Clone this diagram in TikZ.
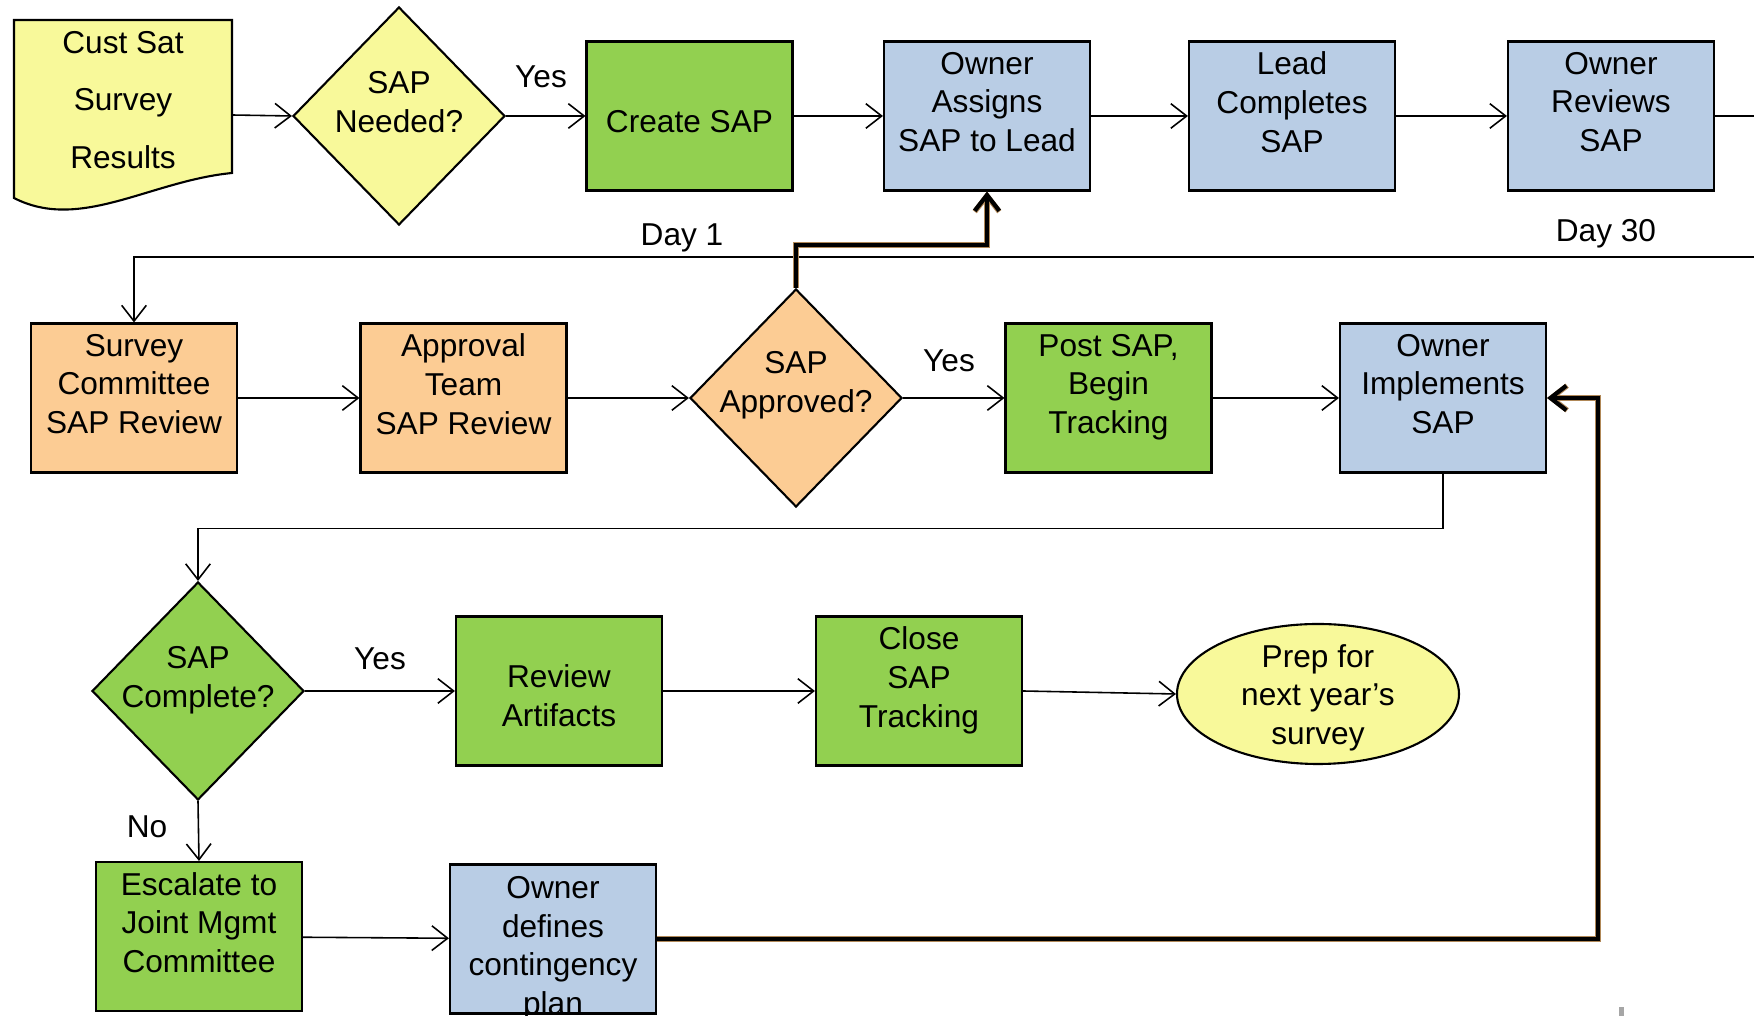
\documentclass[tikz,border=0pt]{standalone}
\usepackage{fontspec}
\setmainfont{Liberation Sans}
\usetikzlibrary{arrows.meta,shapes.geometric}

\definecolor{sapyellow}{HTML}{F8F99A}
\definecolor{sapgreen}{HTML}{92D050}
\definecolor{sapblue}{HTML}{B9CDE5}
\definecolor{saporange}{HTML}{FCCC94}
\definecolor{sapbrown}{HTML}{B08858}

\begin{document}
\begin{tikzpicture}[x=1cm,y=1cm,
  txt/.style={font=\fontsize{9}{11}\selectfont,align=center},
  box/.style={draw,line width=0.6pt,rectangle,minimum width=2.06cm,minimum height=1.49cm,
    inner xsep=0pt,inner ysep=-2pt,txt},
  dia/.style={draw,line width=0.6pt,diamond,minimum width=2.12cm,minimum height=2.18cm,inner sep=0pt},
  arr/.style={-{Straight Barb[length=4.5pt,width=7pt]},line width=0.45pt},
  boldarr/.style={-{Straight Barb[length=4.5pt,width=7pt]},line width=1.2pt,
    preaction={draw=sapbrown,line width=1.5pt}}]
\useasboundingbox (0,0) rectangle (17.54,10.16);

% survey results (document shape)
\draw[fill=sapyellow,line width=0.6pt] (0.14,9.96) -- (2.32,9.96) -- (2.32,8.43)
      .. controls (1.5,8.35) and (0.8,7.84) .. (0.14,8.18) -- cycle;
\node[txt,font=\fontsize{9}{16.4}\selectfont] (cust) at (1.23,9.16) {Cust Sat\\Survey\\Results};
\coordinate (custout) at (2.32,9.01);

% first row
\node[dia,fill=sapyellow] (need) at (3.99,9.00) {};
\node[txt] (needtxt) at (need.center) {SAP\\Needed?\\[-3pt]~};
\node[box,fill=sapgreen] (create) at (6.895,9.00) {~\\[-1.5pt]Create SAP};
\node[box,fill=sapblue] (assign) at (9.87,9.00) {Owner\\Assigns\\SAP to Lead\\[-3pt]~};
\node[box,fill=sapblue] (lead) at (12.92,9.00) {Lead\\Completes\\SAP\\[-3pt]~};
\node[box,fill=sapblue] (review) at (16.11,9.00) {Owner\\Reviews\\SAP\\[-3pt]~};
\node[txt] (yes1) at (5.41,9.39) {Yes};
\node[txt] (day1) at (6.82,7.785) {Day 1};
\node[txt] (day30) at (16.06,7.825) {Day 30};

% second row
\node[box,fill=saporange] (survey) at (1.34,6.18) {Survey\\Committee\\SAP Review\\[-3pt]~};
\node[box,fill=saporange] (approval) at (4.635,6.18) {Approval\\Team\\SAP Review\\[-3pt]~};
\node[dia,fill=saporange] (approved) at (7.96,6.18) {};
\node[txt] (approvedtxt) at (approved.center) {SAP\\Approved?\\[-2pt]~};
\node[box,fill=sapgreen] (post) at (11.085,6.18) {Post SAP,\\Begin\\Tracking\\[-3pt]~};
\node[box,fill=sapblue] (impl) at (14.43,6.18) {Owner\\Implements\\SAP\\[-3pt]~};
\node[txt] (yes2) at (9.49,6.55) {Yes};

% third row
\node[dia,fill=sapgreen] (complete) at (1.98,3.25) {};
\node[txt] (completetxt) at (complete.center) {SAP\\Complete?\\[-3pt]~};
\node[box,fill=sapgreen] (artifacts) at (5.59,3.25) {~\\[-1.9pt]Review\\Artifacts};
\node[box,fill=sapgreen] (close) at (9.19,3.25) {Close\\SAP\\Tracking\\[-3pt]~};
\node[draw,line width=0.6pt,ellipse,fill=sapyellow,minimum width=2.82cm,minimum height=1.40cm,
      inner xsep=0pt,inner ysep=-3.5pt,txt] (prep) at (13.18,3.22) {~\\[-2.3pt]Prep for\\next year’s\\survey};
\node[txt] (yes3) at (3.80,3.57) {Yes};
\node[txt] (no) at (1.47,1.89) {No};

% fourth row
\node[box,fill=sapgreen] (escalate) at (1.99,0.795) {Escalate to\\Joint Mgmt\\Committee\\[-3pt]~};
\node[box,fill=sapblue,inner ysep=-3pt] (contingency) at (5.53,0.77) {~\\[0.9pt]Owner\\defines\\contingency\\plan};

% connectors
\draw[arr] (custout) -- (need.west);
\draw[arr] (need.east) -- (create.west);
\draw[arr] (create) -- (assign);
\draw[arr] (assign) -- (lead);
\draw[arr] (lead) -- (review);
\draw[arr] (review.east) -- (18.2,9.00) -- (18.2,7.59) -| (survey.north);
\draw[arr] (survey) -- (approval);
\draw[arr] (approval.east) -- (approved.west);
\draw[arr] (approved.east) -- (post.west);
\draw[arr] (post) -- (impl);
\draw[boldarr] (approved.north) -- ++(0,0.43) -| (assign.south);
\draw[arr] (impl.south) -- ++(0,-0.55) -| (complete.north);
\draw[arr] (complete.east) -- (artifacts.west);
\draw[arr] (artifacts) -- (close);
\draw[arr] (close.east) -- (prep.west);
\draw[arr] (complete.south) -- (escalate.north);
\draw[arr] (escalate) -- (contingency);
\draw[boldarr] (contingency.east) -- ++(9.41,0) |- (impl.east);

% stray mark at the lower edge
\fill[gray!70] (16.19,0) rectangle (16.24,0.09);
\end{tikzpicture}
\end{document}
